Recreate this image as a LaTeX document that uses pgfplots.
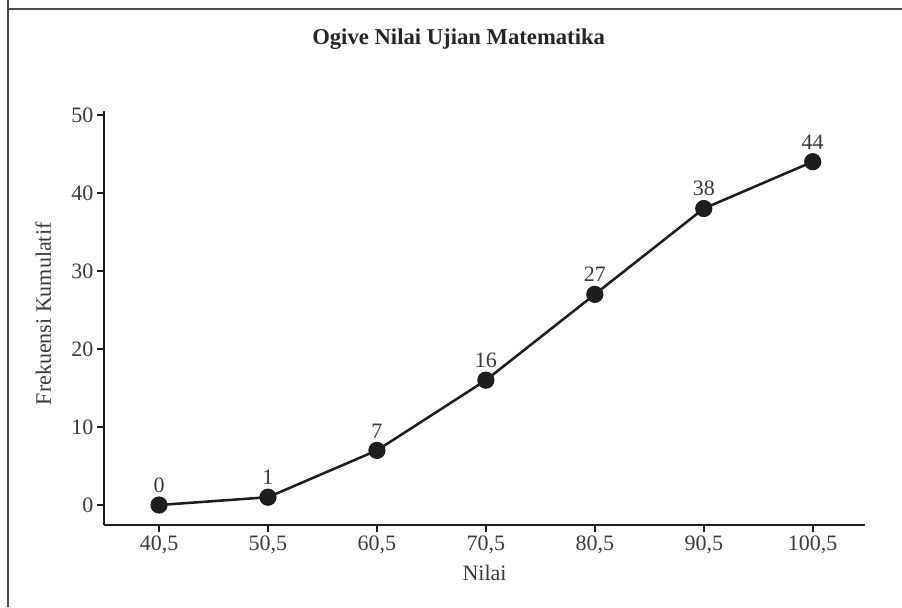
\documentclass[border=0pt]{standalone}
\usepackage{pgfplots}
\pgfplotsset{compat=1.18}
\usepackage{fontspec}
\setmainfont{Liberation Serif}
\definecolor{txt}{HTML}{3A3A3A}
\definecolor{ln}{HTML}{1E1E1E}
\begin{document}
\begin{tikzpicture}
\path[use as bounding box] (0,0) rectangle (676.5pt,455.25pt);
% outer frame (top and left visible)
\draw[line width=2pt, color=black!70] (6pt,455.25pt) -- (6pt,448.5pt) -- (676.5pt,448.5pt);
\draw[line width=2pt, color=black!70] (6pt,0pt) -- (6pt,448.5pt);
\begin{axis}[
  at={(78pt,61.5pt)}, anchor=south west,
  scale only axis,
  width=570.75pt, height=310.5pt,
  xmin=35.45, xmax=105.3,
  ymin=-2.56, ymax=50.5,
  axis lines*=left,
  axis line style={line width=1.7pt, color=ln},
  every tick/.style={line width=1.5pt, color=ln},
  tick align=outside,
  major tick length=5.5pt,
  xtick={40.5,50.5,60.5,70.5,80.5,90.5,100.5},
  xticklabels={{40,5},{50,5},{60,5},{70,5},{80,5},{90,5},{100,5}},
  ytick={0,10,20,30,40,50},
  /pgf/number format/assume math mode=true,
  tick label style={font=\fontsize{16.5}{19}\selectfont, color=txt},
  xticklabel style={yshift=1pt},
  yticklabel style={xshift=1pt},
  title={\textbf{Ogive Nilai Ujian Matematika}},
  title style={at={(axis description cs:0.466,1.155)}, anchor=center, font=\fontsize{17}{19}\selectfont, color=black!85},
  xlabel={Nilai},
  xlabel style={at={(axis description cs:0.5,-0.116)}, anchor=center, font=\fontsize{16.5}{19}\selectfont, color=txt},
  ylabel={Frekuensi Kumulatif},
  ylabel style={at={(axis description cs:-0.080,0.51)}, anchor=center, rotate=0, font=\fontsize{16.5}{19}\selectfont, color=txt},
  clip=false,
  nodes near coords,
  point meta=explicit symbolic,
  every node near coord/.append style={font=\fontsize{16.5}{19}\selectfont, color=txt, anchor=south, yshift=5pt},
]
\addplot[color=ln, line width=1.9pt, mark=*, mark size=5.5pt, mark options={fill=ln, draw=ln}]
  coordinates {
  (40.5,0) [0]
  (50.5,1) [1]
  (60.5,7) [7]
  (70.5,16) [16]
  (80.5,27) [27]
  (90.5,38) [38]
  (100.5,44) [44]
  };
\end{axis}
\end{tikzpicture}
\end{document}
